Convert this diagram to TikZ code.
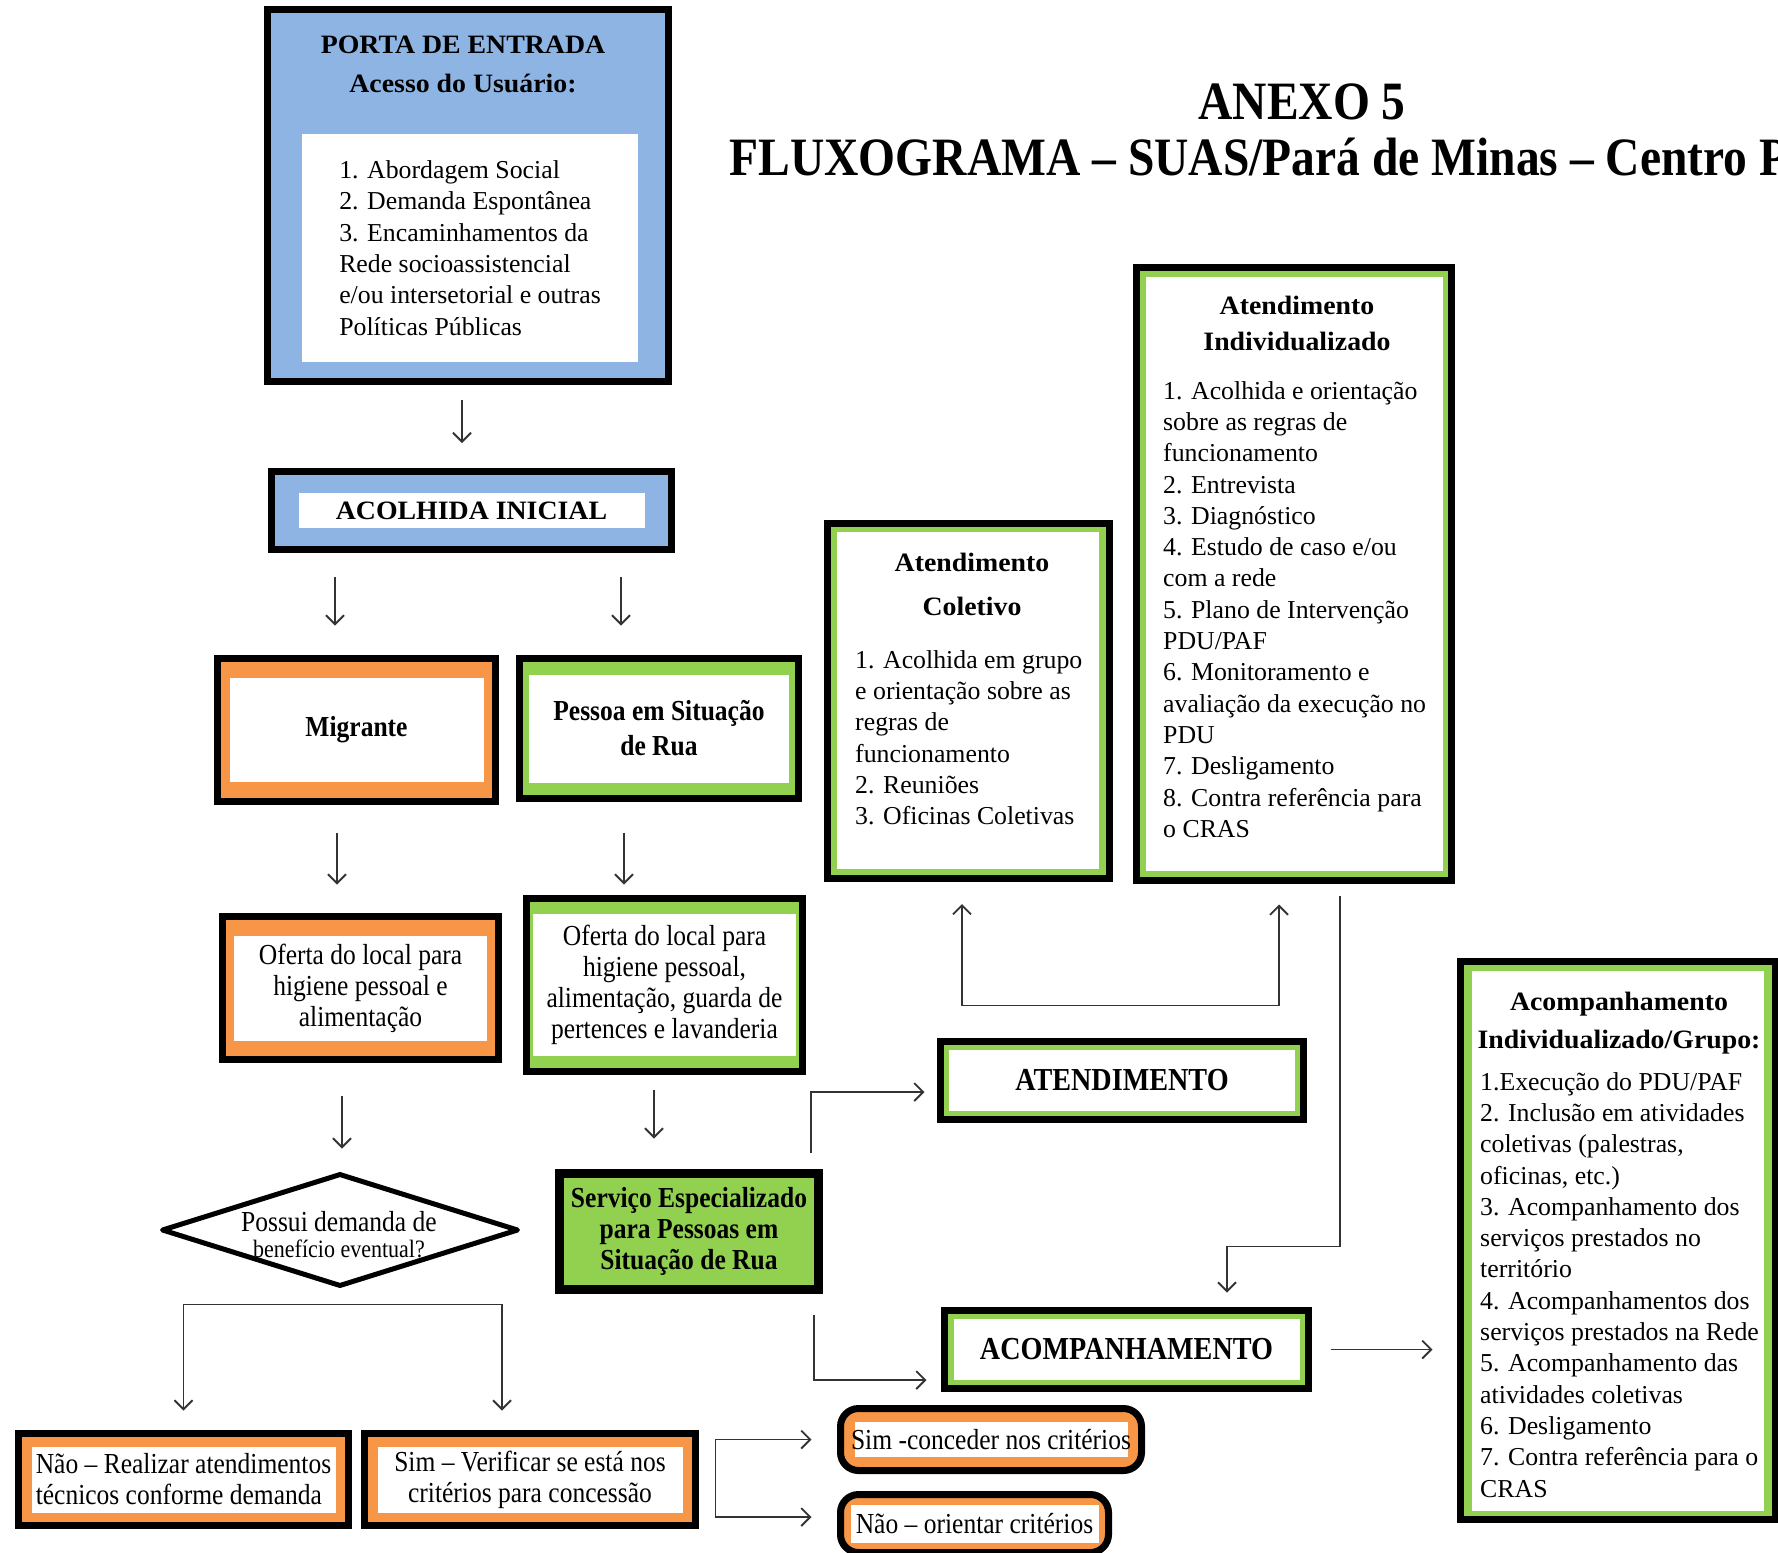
\documentclass[tikz,border=0pt]{standalone}
\usepackage{fontspec}
\setmainfont{Liberation Serif}
\newfontfamily\narrowfont{Liberation Serif}[FakeStretch=0.88]
\newfontfamily\headfont{Liberation Serif}[FakeStretch=1.05]
\usetikzlibrary{arrows.meta,shapes.geometric}
\definecolor{bluefill}{HTML}{8EB4E3}
\definecolor{orangefill}{HTML}{F79646}
\definecolor{greenfill}{HTML}{92D050}

\begin{document}
\begin{tikzpicture}[x=1pt,y=-1pt,
  box/.style={draw=black,line width=7pt,fill=#1,inner sep=0pt,align=center},
  inset/.style 2 args={path picture={\fill[white,sharp corners]
      ([shift={(#1,#2)}]path picture bounding box.south west) rectangle
      ([shift={(-#1,-#2)}]path picture bounding box.north east);}},
  lbl/.style={font=\narrowfont\fontsize{29}{31}\selectfont,align=center},
  blbl/.style={font=\narrowfont\bfseries\fontsize{29}{#1}\selectfont,align=center},
  blbl/.default=31pt,
  caps/.style={font=\narrowfont\bfseries\fontsize{32}{34}\selectfont},
  head/.style={font=\headfont\bfseries\fontsize{26.5}{#1}\selectfont,align=center},
  list/.style={font=\fontsize{25.8}{31.3}\selectfont,align=left,inner sep=0pt},
  con/.style={draw=black!80,line width=1.8pt,>={Straight Barb[length=9pt,width=18pt]}}]
\path[use as bounding box,fill=white] (0,0) rectangle (1778,1553);

\node[anchor=base,font=\narrowfont\bfseries\fontsize{54}{60}\selectfont] (anexo) at (1302,119) {ANEXO 5};
\node[anchor=base west,font=\narrowfont\bfseries\fontsize{54}{60}\selectfont] (fluxo) at (726,175) {FLUXOGRAMA – SUAS/Pará de Minas – Centro P};

\node[box=bluefill,minimum width=401pt,minimum height=372pt] (porta) at (468,195.5) {};
\node[head=39pt] (porta-t) at (463,64) {PORTA DE ENTRADA\\Acesso do Usuário:};
\node[list,fill=white,minimum width=336pt,minimum height=228pt] (porta-l) at (470,248) {1. Abordagem Social\\2. Demanda Espontânea\\3. Encaminhamentos da\\Rede socioassistencial\\e/ou intersetorial e outras\\Políticas Públicas};

\node[box=bluefill,inset={27pt}{21.5pt},minimum width=400pt,minimum height=78pt,head=30pt] (acolhida) at (471.5,510.5) {ACOLHIDA INICIAL};

\node[box=orangefill,inset={12pt}{19.5pt},minimum width=278pt,minimum height=143pt,blbl] (migrante) at (356.5,730) {Migrante};
\node[box=greenfill,inset={9.5pt}{16pt},minimum width=279pt,minimum height=140pt,blbl=35pt] (pessoa) at (659,728.5) {Pessoa em Situação\\de Rua};

\node[box=orangefill,inset={11.5pt}{19pt},minimum width=276pt,minimum height=143pt,lbl] (ofertaL) at (360.5,988) {Oferta do local para\\higiene pessoal e\\alimentação};
\node[box=greenfill,inset={6.5pt}{15.5pt},minimum width=276pt,minimum height=173pt,lbl] (ofertaR) at (664.5,985) {Oferta do local para\\higiene pessoal,\\alimentação, guarda de\\pertences e lavanderia};

\node[diamond,draw=black,line width=5pt,line join=round,fill=white,minimum width=357pt,minimum height=113pt,inner sep=0pt] (beneficio) at (340,1230) {};
\node[lbl] (beneficio-t) at (339,1235) {Possui demanda de\\[-5pt]{\fontsize{25}{26}\selectfont benefício eventual?}};

\node[box=greenfill,line width=9pt,minimum width=259pt,minimum height=116pt,blbl] (servico) at (689,1231.5) {Serviço Especializado\\para Pessoas em\\Situação de Rua};

\node[box=orangefill,inset={13pt}{13pt},minimum width=330pt,minimum height=92pt,lbl,align=left] (naoR) at (183.5,1479.5) {Não – Realizar atendimentos\\técnicos conforme demanda};
\node[box=orangefill,inset={13pt}{13pt},minimum width=331pt,minimum height=92pt,lbl] (simV) at (530,1479.5) {Sim – Verificar se está nos\\critérios para concessão};

\node[box=orangefill,rounded corners=18pt,inset={14pt}{13.5pt},minimum width=301pt,minimum height=62pt,lbl] (simC) at (991,1439.5) {Sim -conceder nos critérios};
\node[box=orangefill,rounded corners=18pt,inset={10pt}{10pt},minimum width=268pt,minimum height=58pt,lbl] (naoO) at (974.5,1523.5) {Não – orientar critérios};

\node[box=greenfill,inset={10pt}{9pt},minimum width=282pt,minimum height=355pt] (coletivo) at (968,700.5) {};
\node[head=44pt] (coletivo-t) at (972,584) {Atendimento\\Coletivo};
\node[list,anchor=north west] (coletivo-l) at (855,650) {1. Acolhida em grupo\\e orientação sobre as\\regras de\\funcionamento\\2. Reuniões\\3. Oficinas Coletivas};

\node[box=greenfill,inset={9pt}{9.5pt},minimum width=315pt,minimum height=613pt] (individ) at (1294,574) {};
\node[head=36pt] (individ-t) at (1297,323) {Atendimento\\Individualizado};
\node[list,anchor=north west] (individ-l) at (1163,381) {1. Acolhida e orientação\\sobre as regras de\\funcionamento\\2. Entrevista\\3. Diagnóstico\\4. Estudo de caso e/ou\\com a rede\\5. Plano de Intervenção\\PDU/PAF\\6. Monitoramento e\\avaliação da execução no\\PDU\\7. Desligamento\\8. Contra referência para\\o CRAS};

\node[box=greenfill,inset={8.5pt}{8.5pt},minimum width=363pt,minimum height=78pt,caps] (atend) at (1122,1080.5) {ATENDIMENTO};
\node[box=greenfill,inset={9pt}{8.5pt},minimum width=364pt,minimum height=78pt,caps] (acomp) at (1126.5,1349.5) {ACOMPANHAMENTO};

\node[box=greenfill,inset={11.5pt}{9pt},minimum width=315pt,minimum height=558pt] (acgrupo) at (1618,1240.5) {};
\node[head=38pt] (acgrupo-t) at (1619,1023) {Acompanhamento\\Individualizado/Grupo:};
\node[list,anchor=north west] (acgrupo-l) at (1480,1072) {1.Execução do PDU/PAF\\2. Inclusão em atividades\\coletivas (palestras,\\oficinas, etc.)\\3. Acompanhamento dos\\serviços prestados no\\território\\4. Acompanhamentos dos\\serviços prestados na Rede\\5. Acompanhamento das\\atividades coletivas\\6. Desligamento\\7. Contra referência para o\\CRAS};

\draw[con,->] ([xshift=-6pt,yshift=-15pt]porta.south) -- ([xshift=-9.5pt,yshift=25pt]acolhida.north);
\draw[con,->] ([xshift=-136.5pt,yshift=-23.5pt]acolhida.south) -- ([xshift=-21.5pt,yshift=29.5pt]migrante.north);
\draw[con,->] ([xshift=149.5pt,yshift=-23.5pt]acolhida.south) -- ([xshift=-38pt,yshift=29.5pt]pessoa.north);
\draw[con,->] ([xshift=-19.5pt,yshift=-27.5pt]migrante.south) -- ([xshift=-23.5pt,yshift=28.5pt]ofertaL.north);
\draw[con,->] ([xshift=-35pt,yshift=-30.5pt]pessoa.south) -- ([xshift=-40.5pt,yshift=10.5pt]ofertaR.north);
\draw[con,->] ([xshift=-18.5pt,yshift=-32.5pt]ofertaL.south) -- ([xshift=2pt,yshift=22.5pt]beneficio.north);
\draw[con,->] ([xshift=-10.5pt,yshift=-14.5pt]ofertaR.south) -- ([xshift=-35pt,yshift=30.5pt]servico.north);
\draw[con,<->] ([yshift=19.5pt]naoR.north) |- ([yshift=-15.5pt]beneficio.south) -| ([xshift=-28pt,yshift=19.5pt]simV.north);
\draw[con,<->] ([xshift=-25.5pt]simC.west) -| ([xshift=16.5pt]simV.east) |- ([xshift=-25.5pt,yshift=6.5pt]naoO.west);
\draw[con,->] ([xshift=122pt,yshift=16.5pt]servico.north) |- ([xshift=-12.5pt,yshift=-11.5pt]atend.west);
\draw[con,->] ([xshift=125pt,yshift=-20.5pt]servico.south) |- ([xshift=-14.5pt,yshift=-30.5pt]acomp.west);
\draw[con,<->] ([xshift=-6pt,yshift=-22.5pt]coletivo.south) |- ([yshift=32.5pt]atend.north) -| ([xshift=-15pt,yshift=-20.5pt]individ.south);
\draw[con,->] ([xshift=46pt,yshift=-11.5pt]individ.south) -- ++(0,351) -| ([xshift=100.5pt,yshift=14.5pt]acomp.north);
\draw[con,->,shorten <=18.5pt,shorten >=24.5pt] (acomp.east) -- (acomp.east -| acgrupo.west);
\end{tikzpicture}
\end{document}
